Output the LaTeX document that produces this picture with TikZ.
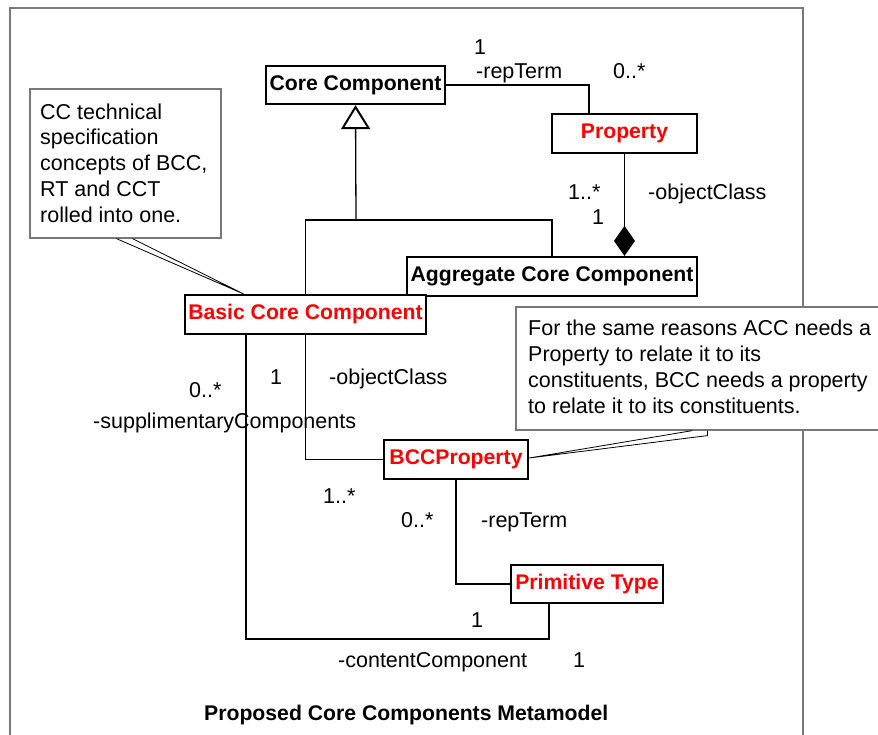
\documentclass[tikz,border=0pt]{standalone}
\usepackage{fontspec}
\setmainfont{Liberation Sans}
\usetikzlibrary{arrows.meta,calc}
\definecolor{frameg}{RGB}{120,120,120}
\definecolor{clsred}{RGB}{255,0,0}
\tikzset{
  cls/.style={draw, line width=2.2pt, fill=white, inner sep=0pt,
    font=\bfseries\fontsize{21.2}{25}\selectfont},
  redcls/.style={cls, text=clsred},
  conn/.style={line width=1.3pt},
  lbl/.style={inner sep=0pt, anchor=base west, font=\fontsize{21.5}{25}\selectfont},
  note/.style={draw=frameg, line width=1.2pt, fill=white, inner sep=0pt},
  notetext/.style={inner sep=0pt, anchor=base west, align=left,
    font=\fontsize{21.5}{25.7}\selectfont},
  pointer/.style={draw=black, line width=0.8pt},
}
\begin{document}
\begin{tikzpicture}[x=1pt,y=-1pt]
\clip (0,0) rectangle (878,734);
\fill[white] (0,0) rectangle (878,734);

% outer frame
\draw[frameg, line width=1.3pt] (10,745) -- (10,8) -- (803,8) -- (803,745);

% classes
\node[cls, minimum width=179, minimum height=38] (cc) at (355.5,85) {Core Component};
\node[redcls, minimum width=145, minimum height=39] (prop) at (624.5,133.5) {Property};
\node[cls, minimum width=290, minimum height=39] (acc) at (552,276.5) {Aggregate Core Component};
\node[redcls, minimum width=241, minimum height=39] (bcc) at (305.5,314.5) {Basic Core Component};
\node[redcls, minimum width=144, minimum height=39] (bccp) at (456,459.5) {BCCProperty};
\node[redcls, minimum width=152, minimum height=38] (pt) at (587,584) {Primitive Type};

% generalization
\coordinate (genjoin) at (356,220);
\draw[conn] (bcc.north) |- (genjoin) -| (acc.north);
\draw[conn, -{Triangle[open, length=24pt, width=29pt, line width=2pt]}] (genjoin) -- (cc.south);

% associations
\draw[conn] (cc.east) -| ([xshift=-35.5pt]prop.north);
\draw[conn, -{Diamond[length=30pt, width=21pt]}] (prop.south) -- (prop.south |- acc.north);
\draw[conn] (bcc.south) |- (bccp.west);
\draw[conn] ([xshift=-59.5pt]bcc.south) |- ($(pt.south)+(-38,35)$) -- ([xshift=-38pt]pt.south);
\draw[conn] (bccp.south) |- (pt.west);

% association end labels
\node[lbl] (l1) at (474,54) {1};
\node[lbl] (l2) at (476,78) {-repTerm};
\node[lbl] (l3) at (613,78) {0..*};
\node[lbl] (l4) at (568,199) {1..*};
\node[lbl] (l5) at (592,224) {1};
\node[lbl] (l6) at (648,199) {-objectClass};
\node[lbl] (l7) at (270,384) {1};
\node[lbl] (l8) at (329,384) {-objectClass};
\node[lbl] (l9) at (189,397) {0..*};
\node[lbl] (l10) at (93,428) {-supplimentaryComponents};
\node[lbl] (l11) at (323,503) {1..*};
\node[lbl] (l12) at (401,527) {0..*};
\node[lbl] (l13) at (481,527) {-repTerm};
\node[lbl] (l14) at (471,627) {1};
\node[lbl] (l15) at (338,667) {-contentComponent};
\node[lbl] (l16) at (573,667) {1};

% notes (text anchored on the baseline of the last line)
\node[note, minimum width=191, minimum height=149] (n1) at (125.5,163.5) {};
\node[notetext] (n1t) at (40,222) {CC technical\\specification\\concepts of BCC,\\RT and CCT\\rolled into one.};
\draw[pointer] ([xshift=87pt]n1.south west) -- ([xshift=-62pt]bcc.north) -- ([xshift=103pt]n1.south west);

\node[note, minimum width=374, minimum height=123] (n2) at (703,368.5) {};
\node[notetext] (n2t) at (528,413) {For the same reasons ACC needs a\\Property to relate it to its\\constituents, BCC needs a property\\to relate it to its constituents.};
\draw[pointer] ([xshift=177pt]n2.south west) -- ([yshift=1.5pt]bccp.east) -- ([xshift=192pt,yshift=-5pt]n2.south west) -- ([xshift=192pt]n2.south west);

% title
\node[lbl, font=\bfseries\fontsize{21.2}{25}\selectfont] (title) at (204,720) {Proposed Core Components Metamodel};
\end{tikzpicture}
\end{document}
